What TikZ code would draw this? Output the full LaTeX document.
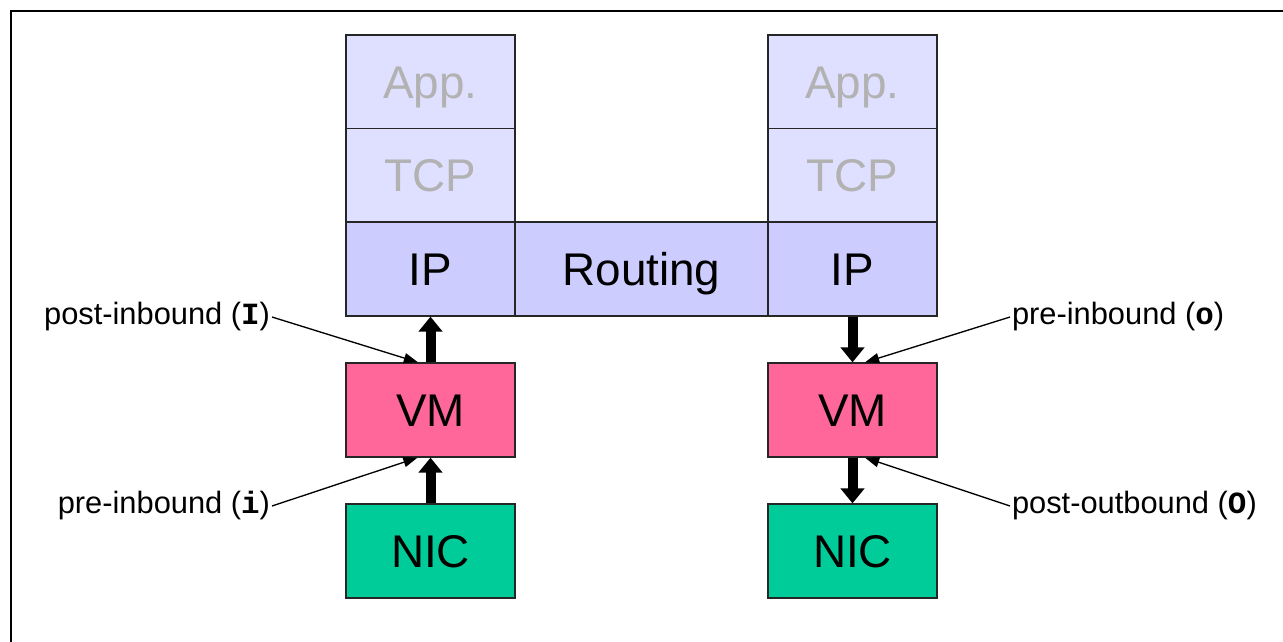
\documentclass[tikz,border=0pt]{standalone}
\usepackage{fontspec}
\setmainfont{Liberation Sans}
\newfontfamily\codefont{Liberation Mono}
\usetikzlibrary{arrows.meta, calc}

\definecolor{upperfill}{HTML}{DFDFFF}
\definecolor{uppertext}{HTML}{B2B2B2}
\definecolor{ipfill}{HTML}{CCCCFF}
\definecolor{vmfill}{HTML}{FF6699}
\definecolor{nicfill}{HTML}{00CC99}

\begin{document}
\begin{tikzpicture}[x=0.6pt, y=-0.6pt,
    layer/.style={rectangle, draw=black!85, line width=0.8pt, minimum width=101.4pt, minimum height=56.4pt, inner sep=0pt, text height=19.7pt, text depth=0pt, font=\fontsize{27.5}{32}\selectfont},
    upper/.style={layer, fill=upperfill, text=uppertext},
    ip/.style={layer, fill=ipfill},
    vm/.style={layer, fill=vmfill},
    nic/.style={layer, fill=nicfill},
    fat/.style={-{Triangle[length=9pt, width=14pt]}, line width=6pt},
    tag/.style={inner sep=1pt, font=\fontsize{18.5}{22}\selectfont},
    pointer/.style={-{Triangle[length=8.5pt, width=6pt]}, line width=0.8pt}
]
\useasboundingbox (0,0) rectangle (1283,641);

% Frame
\draw[line width=1.2pt] (1290,11) -- (10.5,11) -- (10.5,650);

% Sender stack
\node[upper] (appL) at (430.5, 82) {App.};
\node[upper] (tcpL) at (430.5, 175.5) {TCP};
\node[ip] (ipL) at (430.5, 269) {IP};
\node[vm] (vmL) at (430.5, 410) {VM};
\node[nic] (nicL) at (430.5, 551) {NIC};

% Routing
\node[ip, minimum width=151.8pt] (route) at (641.5, 269) {Routing};

% Receiver stack
\node[upper] (appR) at (852.5, 82) {App.};
\node[upper] (tcpR) at (852.5, 175.5) {TCP};
\node[ip] (ipR) at (852.5, 269) {IP};
\node[vm] (vmR) at (852.5, 410) {VM};
\node[nic] (nicR) at (852.5, 551) {NIC};

% Packet flow
\draw[fat] (nicL.north) -- (vmL.south);
\draw[fat] (vmL.north) -- (ipL.south);
\draw[fat] (ipR.south) -- (vmR.north);
\draw[fat] (vmR.south) -- (nicR.north);

% Hook labels
\node[tag, anchor=east] (postin) at (272, 317) {post-inbound ({\codefont\bfseries I})};
\node[tag, anchor=east] (prein) at (272, 506) {pre-inbound ({\codefont\bfseries i})};
\node[tag, anchor=west] (preout) at (1010, 317) {pre-inbound ({\codefont\bfseries o})};
\node[tag, anchor=west] (postout) at (1010, 506) {post-outbound ({\codefont\bfseries O})};

\draw[pointer] (postin.east) -- ($(vmL.north)+(-12.5,0)$);
\draw[pointer] (prein.east) -- ($(vmL.south)+(-13,0)$);
\draw[pointer] (preout.west) -- ($(vmR.north)+(12.5,0)$);
\draw[pointer] (postout.west) -- ($(vmR.south)+(12.5,0)$);

\end{tikzpicture}
\end{document}
